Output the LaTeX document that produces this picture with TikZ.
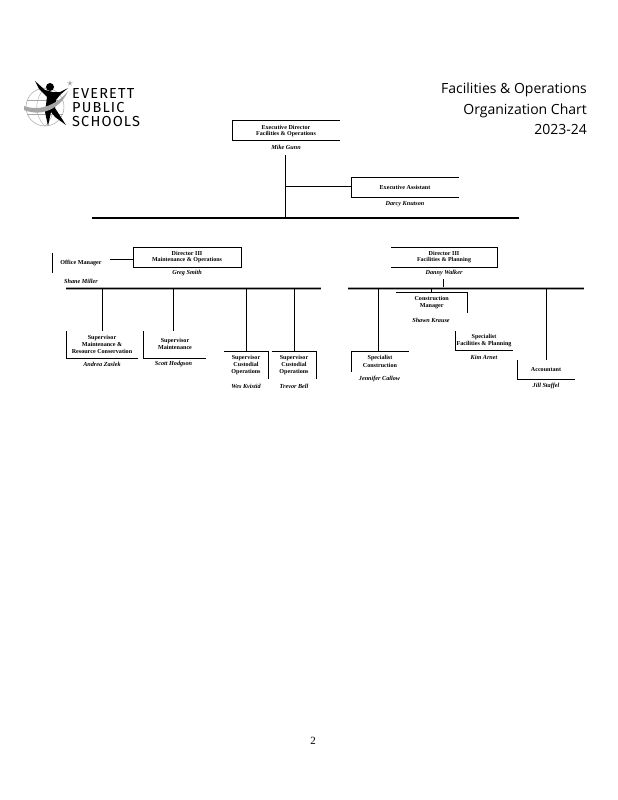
\documentclass[tikz,border=0pt]{standalone}
\usepackage{fontspec}
\setmainfont{Liberation Serif}
\newfontfamily\headfont{Open Sans}
\newfontfamily\logofont[LetterSpace=8]{Fira Sans}
\tikzset{
 x=1pt,y=-1pt,
 ln/.style={draw=black,line width=0.8pt},
 thick rule/.style={draw=black,line width=2pt},
 shade rule/.style={draw=gray!70,line width=2.4pt},
 core rule/.style={draw=black,line width=1pt},
 role/.style={inner sep=0pt,align=center,font=\fontsize{6.1}{7.4}\selectfont\bfseries},
 sub/.style={inner sep=0pt,align=center,font=\fontsize{6}{7.4}\selectfont\bfseries},
 who/.style={inner sep=0pt,align=center,font=\fontsize{6.2}{8}\selectfont\itshape\bfseries},
 heading/.style={inner sep=0pt,anchor=base east,font=\fontsize{14}{17}\headfont},
 logotext/.style={inner sep=0pt,anchor=base west,font=\fontsize{14.5}{15}\logofont}
}
\begin{document}
\begin{tikzpicture}
\useasboundingbox (0,0) rectangle (618,800);
\fill[white] (0,0) rectangle (618,800);
% headings
\node[heading] (h1) at (587,93.5) {Facilities \& Operations};
\node[heading] (h2) at (587,114) {Organization Chart};
\node[heading] (h3) at (587,134) {2023-24};
% logo
\draw[gray!70,line width=0.5pt] (45,107) circle (19);
\draw[gray!70,line width=0.4pt] (45,88) .. controls (34,98) and (34,116) .. (45,126);
\draw[gray!70,line width=0.4pt] (45,88) .. controls (56,98) and (56,116) .. (45,126);
\draw[gray!70,line width=0.4pt] (27,100) -- (63,100) (27,114) -- (63,114);
\fill[black] (35,81) -- (45,90) -- (53,92) -- (60,92) -- (68,88) -- (60,95) -- (56,100) -- (55,108) -- (66,125) -- (55,117) -- (51,112) -- (48,126) -- (45,112) -- (47,97) -- (39,89) -- cycle;
\fill[black] (50,87) circle (4);
\fill[gray!70] (24,106) .. controls (40,112) and (58,104) .. (68,91) .. controls (62,106) and (44,118) .. (24,110) -- cycle;
\node[gray,inner sep=0pt,font=\fontsize{12}{12}\selectfont] (star) at (70,84) {$\star$};
\node[logotext] (l1) at (72,98) {EVERETT};
\node[logotext] (l2) at (72,112) {PUBLIC};
\node[logotext] (l3) at (72,126) {SCHOOLS};
% exec
\draw[ln] (340,120.5) -- (232,120.5) -- (232,140) -- (340,140);
\node[role] (ed) at (286,127) {Executive Director};
\node[sub] (edo) at (286,134) {Facilities \& Operations};
\node[who] (mc) at (286,147) {Mike Gunn};
\coordinate (t1) at (285,155);
\coordinate (t2) at (285,217);
\coordinate (t3) at (285,186.5);
\draw[ln] (t1) -- (t2);
\draw[ln] (459,177.5) -- (351,177.5) -- (351,197.5) -- (459,197.5);
\draw[ln] (t3) -- (351,186.5);
\node[role] (ea) at (405,187.5) {Executive Assistant};
\node[who] (dk) at (405,204) {Darcy Knutson};
\draw[thick rule] (92,218) -- (519,218);
% left director
\draw[ln] (133,247.5) rectangle (241,267);
\node[role] (d1) at (187,253) {Director III};
\node[sub] (d1s) at (187,260.5) {Maintenance \& Operations};
\node[who] (gs) at (187,273.5) {Greg Smith};
\draw[ln] (52,253) -- (52,272.5);
\draw[ln] (110,259) -- (133,259);
\node[role] (om) at (81,263) {Office Manager};
\node[who] (sm) at (81,281) {Shane Miller};
\draw[shade rule] (66,288.5) -- (321,288.5);
\draw[core rule] (66,288) -- (321,288);
\draw[ln] (102,289) -- (102,331);
\draw[ln] (173,289) -- (173,331);
\draw[ln] (246,289) -- (246,351);
\draw[ln] (294.5,289) -- (294.5,351);
\draw[ln] (66,331) -- (66,358.3) -- (138,358.3);
\node[role] (s1) at (102,344.5) {Supervisor\\Maintenance \&\\Resource Conservation};
\node[who] (az) at (102,364.5) {Andrea Zaslek};
\draw[ln] (143.5,331) -- (143.5,358.3) -- (206,358.3);
\node[role] (s2) at (175,344) {Supervisor\\Maintenance};
\node[who] (sh) at (173.5,364.5) {Scott Hodgson};
\draw[ln] (224,351.5) -- (268.7,351.5) -- (268.7,379);
\node[role] (s3) at (246,365) {Supervisor\\Custodial\\Operations};
\node[who] (wk) at (246,386) {Wes Kvistid};
\draw[ln] (271.5,351.5) -- (316.7,351.5) -- (316.7,379);
\node[role] (s4) at (294,365) {Supervisor\\Custodial\\Operations};
\node[who] (tb) at (294,386) {Trevor Bell};
% right director
\draw[ln] (391,247.5) -- (497.5,247.5) -- (497.5,267) -- (391,267);
\node[role] (d2) at (444,253) {Director III};
\node[sub] (d2s) at (444,260.5) {Facilities \& Planning};
\node[who] (dw) at (444,273.5) {Danny Walker};
\draw[ln] (443.3,279) -- (443.3,288);
\draw[shade rule] (348,288.5) -- (584,288.5);
\draw[core rule] (348,288) -- (584,288);
\draw[ln] (378.5,289) -- (378.5,351);
\draw[ln] (431.7,289) -- (431.7,292.3);
\draw[ln] (396,292.3) -- (467.7,292.3) -- (467.7,313);
\node[role] (cm) at (431.7,302.5) {Construction\\Manager};
\node[who] (sk) at (431,320) {Shawn Krause};
\draw[ln] (455.3,331) -- (455.3,350.7) -- (512.7,350.7);
\node[role] (fp) at (484,340.3) {Specialist\\Facilities \& Planning};
\node[who] (ka) at (484,357.5) {Kim Arnet};
\draw[ln] (546.3,289) -- (546.3,360);
\draw[ln] (517.3,360) -- (517.3,379) -- (575,379);
\node[role] (ac) at (546,369.3) {Accountant};
\node[who] (js) at (546,386) {Jill Staffel};
\draw[ln] (351.3,372) -- (351.3,351) -- (409,351);
\node[role] (sc) at (380,361.5) {Specialist\\Construction};
\node[who] (jc) at (379.5,379) {Jennifer Callow};
% page number
\node[inner sep=0pt,font=\fontsize{11}{13}\selectfont] (pg) at (313,741) {2};
\end{tikzpicture}
\end{document}
